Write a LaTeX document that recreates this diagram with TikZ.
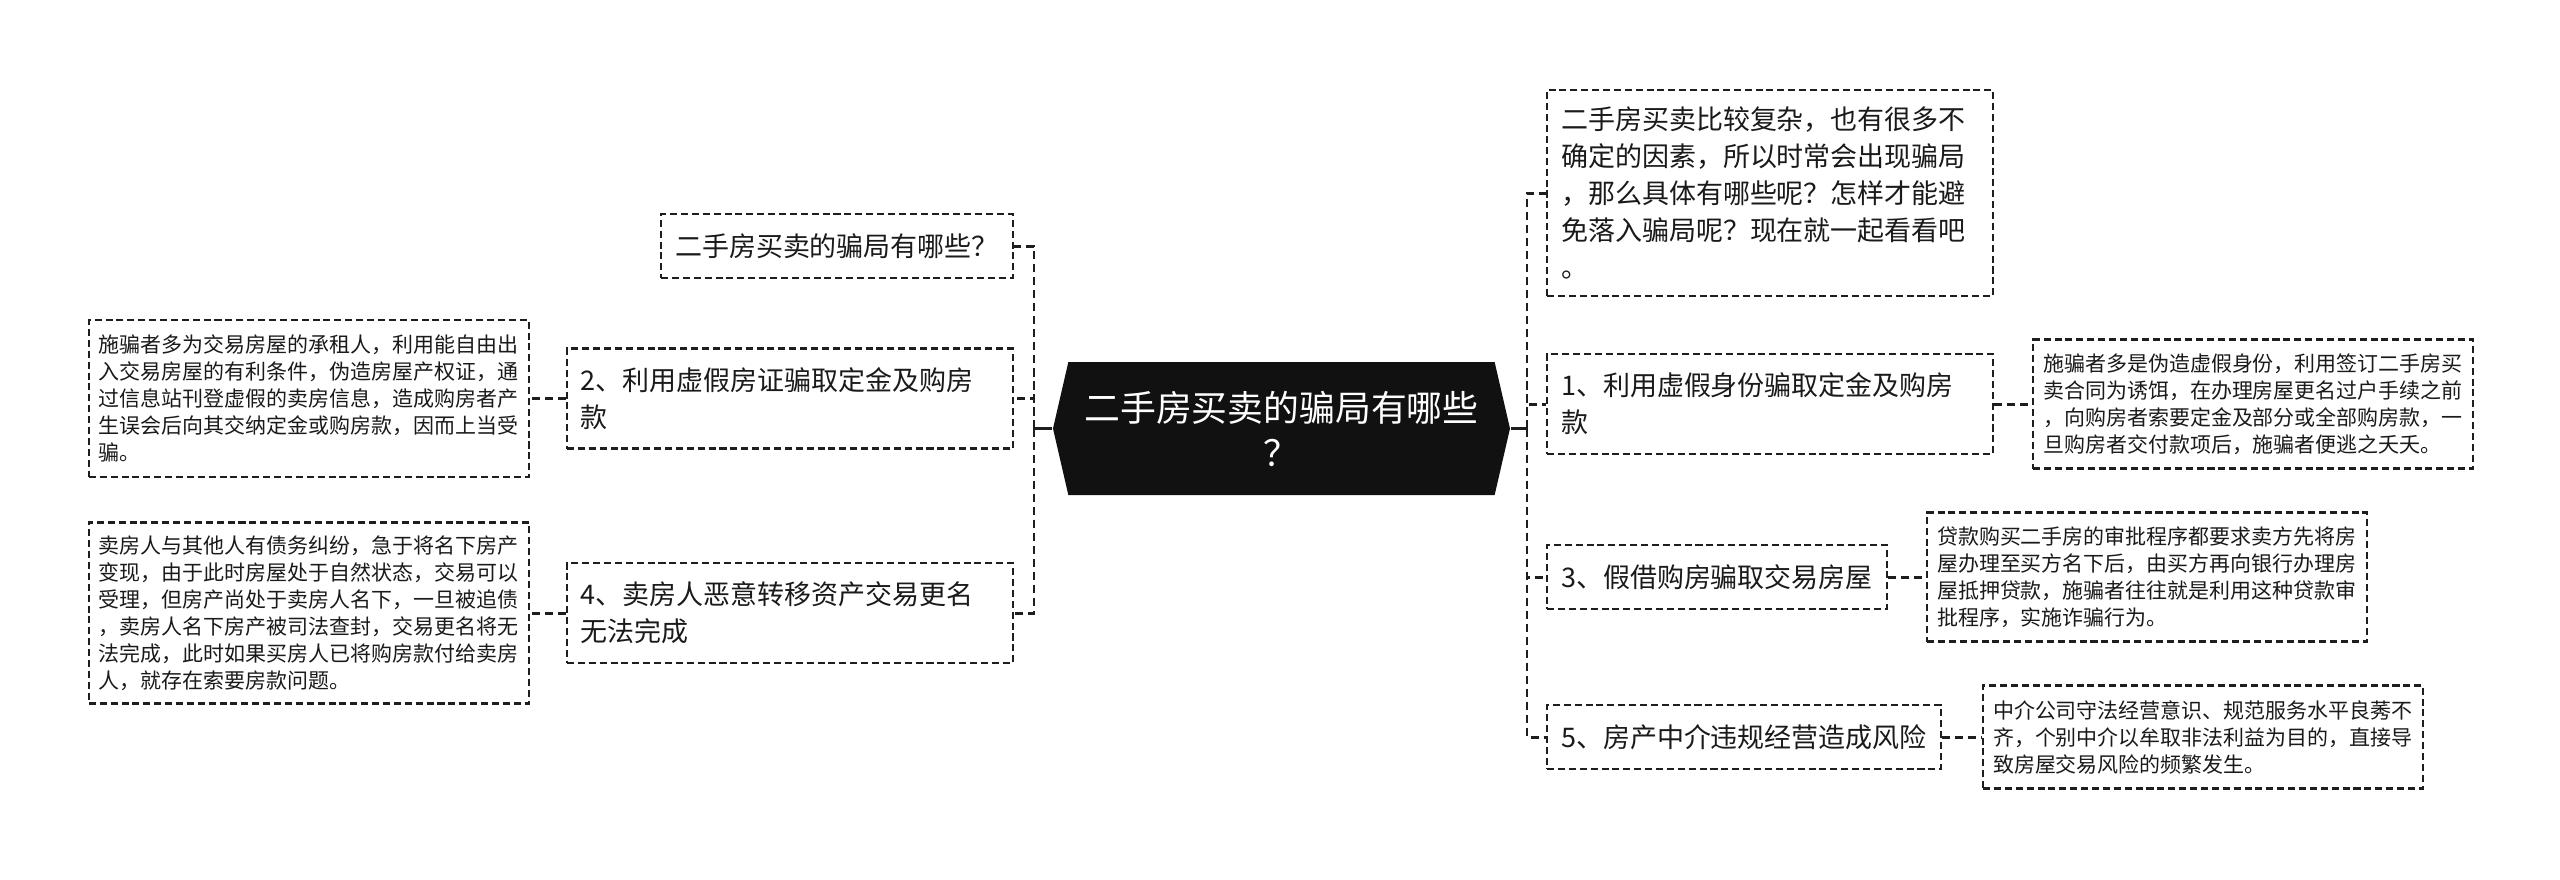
\documentclass[tikz,border=0pt]{standalone}
\usepackage{fontspec}
\newfontfamily\cjk{Noto Sans CJK SC}
\usetikzlibrary{positioning,shapes.symbols}
\definecolor{rootblack}{HTML}{111111}
\definecolor{linegray}{HTML}{1E1E1E}
\definecolor{textgray}{HTML}{1A1A1A}

\begin{document}
\begin{tikzpicture}[
  line width=0.6pt,
  root/.style={shape=signal, signal to=west and east, signal pointer angle=154, fill=rootblack, text=white, minimum width=4.57cm, minimum height=1.33cm, inner sep=0pt, align=center, font=\cjk\fontsize{10.2pt}{12.8pt}\selectfont},
  branch/.style={rectangle, draw=linegray, line width=0.6pt, dash pattern=on 2pt off 1.1pt, inner xsep=0.14cm, inner ysep=0.1cm, align=left, text=textgray, font=\cjk\fontsize{7.68pt}{10.5pt}\selectfont},
  wide/.style={text width=4.18cm},
  detail/.style={rectangle, draw=linegray, line width=0.6pt, dash pattern=on 2pt off 1.1pt, inner xsep=0.1cm, inner ysep=0.1cm, text width=4.2cm, align=left, text=textgray, font=\cjk\fontsize{5.97pt}{7.68pt}\selectfont},
  link/.style={draw=linegray, line width=0.85pt, dash pattern=on 2.3pt off 1.4pt},
  stub/.style={draw=linegray, line width=0.85pt}
]
  \useasboundingbox[fill=white] (-12.815,-4.505) rectangle (12.785,4.285);

  % centre
  \node[root] (root) at (0,0) {二手房买卖的骗局有哪些\\？};

  % right side
  \node[branch, wide, anchor=west, minimum height=2.06cm] (intro) at (2.645,2.355) {二手房买卖比较复杂，也有很多不\\确定的因素，所以时常会出现骗局\\，那么具体有哪些呢？怎样才能避\\免落入骗局呢？现在就一起看看吧\\。};
  \node[branch, wide, anchor=west, minimum height=1.0cm] (n1) at (2.645,0.245) {1、利用虚假身份骗取定金及购房\\款};
  \node[branch, anchor=west, minimum height=0.64cm] (n3) at (2.645,-1.485) {3、假借购房骗取交易房屋};
  \node[branch, anchor=west, minimum height=0.64cm] (n5) at (2.645,-3.085) {5、房产中介违规经营造成风险};

  \node[detail, right=0.38cm of n1, minimum height=1.29cm] (d1) {施骗者多是伪造虚假身份，利用签订二手房买\\卖合同为诱饵，在办理房屋更名过户手续之前\\，向购房者索要定金及部分或全部购房款，一\\旦购房者交付款项后，施骗者便逃之夭夭。};
  \node[detail, right=0.38cm of n3, minimum height=1.29cm] (d3) {贷款购买二手房的审批程序都要求卖方先将房\\屋办理至买方名下后，由买方再向银行办理房\\屋抵押贷款，施骗者往往就是利用这种贷款审\\批程序，实施诈骗行为。};
  \node[detail, right=0.4cm of n5, minimum height=1.03cm] (d5) {中介公司守法经营意识、规范服务水平良莠不\\齐，个别中介以牟取非法利益为目的，直接导\\致房屋交易风险的频繁发生。};

  % left side
  \node[branch, anchor=east, minimum height=0.64cm] (q) at (-2.675,1.825) {二手房买卖的骗局有哪些？};
  \node[branch, wide, anchor=east, minimum height=1.0cm] (n2) at (-2.675,0.30) {2、利用虚假房证骗取定金及购房\\款};
  \node[branch, wide, anchor=east, minimum height=1.0cm] (n4) at (-2.675,-1.845) {4、卖房人恶意转移资产交易更名\\无法完成};

  \node[detail, left=0.36cm of n2, minimum height=1.57cm] (d2) {施骗者多为交易房屋的承租人，利用能自由出\\入交易房屋的有利条件，伪造房屋产权证，通\\过信息站刊登虚假的卖房信息，造成购房者产\\生误会后向其交纳定金或购房款，因而上当受\\骗。};
  \node[detail, left=0.36cm of n4, minimum height=1.81cm] (d4) {卖房人与其他人有债务纠纷，急于将名下房产\\变现，由于此时房屋处于自然状态，交易可以\\受理，但房产尚处于卖房人名下，一旦被追债\\，卖房人名下房产被司法查封，交易更名将无\\法完成，此时如果买房人已将购房款付给卖房\\人，就存在索要房款问题。};

  % connectors
  \coordinate (rs) at (2.455,0);
  \coordinate (ls) at (-2.475,0);
  \draw[stub] (root.east) -- (rs);
  \draw[stub] (root.west) -- (ls);
  \draw[link] (rs) |- (intro.west);
  \draw[link] (rs) |- (n1.west);
  \draw[link] (rs) |- (n3.west);
  \draw[link] (rs) |- (n5.west);
  \draw[link] (ls) |- (q.east);
  \draw[link] (ls) |- (n2.east);
  \draw[link] (ls) |- (n4.east);
  \draw[link] (n1) -- (d1);
  \draw[link] (n3) -- (d3);
  \draw[link] (n5) -- (d5);
  \draw[link] (n2) -- (d2);
  \draw[link] (n4) -- (d4);
\end{tikzpicture}
\end{document}
